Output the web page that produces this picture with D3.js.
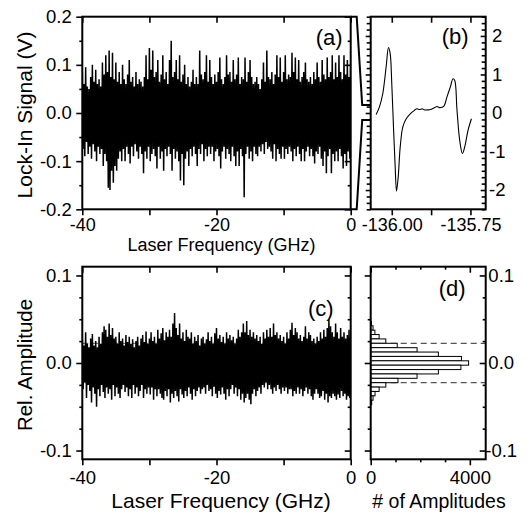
<!DOCTYPE html>
<html><head><meta charset="utf-8">
<script src="https://cdn.jsdelivr.net/npm/d3@7"></script>
<style>
html,body{margin:0;padding:0;background:#fff;}
svg{display:block;font-family:"Liberation Sans",Arial,sans-serif;}
</style></head>
<body>
<svg id="chart" width="531" height="515"></svg>
<script>
// ---------------- DATA ----------------
// (a) lock-in signal, upper / lower envelope in mV, every 0.25 GHz from -40 to 0
const freqStartA = -40, freqStepA = 0.25;
const sigHiA_mV = [
 85,60,95,55, 50,75,100,65, 90,60,70,55, 105,80,120,85, 130,75,125,70,
 105,65,85,60, 100,70,60,80, 110,65,75,55, 85,60,70,65, 55,75,120,70,
 135,90,130,75, 85,110,65,80, 120,70,85,60, 110,150,75,85, 110,70,120,65,
 80,100,60,75, 55,65,90,60, 75,60,130,80, 70,85,120,65, 110,75,60,80,
 65,85,115,70, 60,75,120,80, 85,65,110,70, 80,115,60,75, 70,115,65,85,
 110,75,60,65, 75,60,50,70, 105,65,130,75, 70,85,60,80, 120,75,115,65,
 85,120,70,80, 75,125,85,115, 70,110,65,75, 85,105,70,65, 75,60,85,70,
 105,75,65,110, 80,70,115,75, 85,120,70,105, 75,120,85,70, 120,80,110,75, 110];
const sigLoA_mV = [
 -75,-90,-60,-85, -70,-95,-65,-80, -100,-70,-85,-75, -110,-85,-100,-155, -160,-120,-145,-110,
 -120,-95,-80,-100, -75,-100,-70,-85, -105,-70,-90,-65, -80,-95,-70,-85, -125,-80,-95,-70,
 -100,-85,-75,-90, -115,-70,-95,-80, -120,-75,-90,-70, -85,-120,-75,-95, -80,-100,-140,-85,
 -150,-95,-80,-110, -75,-90,-70,-85, -110,-75,-85,-65, -100,-75,-90,-70, -85,-70,-100,-80,
 -75,-90,-115,-80, -70,-95,-75,-85, -100,-70,-90,-110, -80,-110,-75,-90, -175,-85,-70,-95,
 -80,-100,-70,-85, -90,-70,-80,-65, -85,-60,-75,-70, -80,-95,-65,-100, -75,-85,-95,-70,
 -95,-75,-85,-70, -80,-100,-75,-90, -70,-85,-100,-75, -100,-80,-70,-90, -75,-90,-105,-80,
 -85,-70,-95,-110, -80,-125,-90,-75, -125,-85,-100,-80, -100,-75,-90,-115, -85,-110,-80,-95, -90];
// (c) relative amplitude, upper / lower envelope in units of 0.001, every 0.25 GHz
const ampHiC_m = [
 30,20,35,22, 18,28,33,20, 25,18,30,22, 35,42,38,30, 45,32,40,28,
 30,22,35,25, 28,20,32,24, 30,22,27,18, 25,30,20,28, 32,24,36,22,
 28,35,25,30, 22,38,28,34, 40,26,35,30, 38,30,45,57, 40,32,45,28,
 35,25,38,30, 28,35,22,30, 25,32,20,28, 30,22,27,35, 25,30,22,34,
 40,28,32,24, 30,22,35,28, 32,26,30,22, 28,38,30,35, 45,35,48,32,
 38,30,35,28, 32,25,30,22, 35,28,38,30, 40,30,45,32, 35,28,32,25,
 30,22,35,28, 38,46,32,40, 35,28,32,25, 30,42,28,35, 32,25,28,22,
 30,25,35,28, 38,30,40,50, 42,35,30,45, 35,28,40,30, 35,28,32,38, 30];
const ampLoC_m = [
 -30,-22,-40,-25, -32,-45,-28,-35, -50,-30,-38,-25, -33,-40,-28,-35, -30,-42,-25,-38,
 -28,-35,-40,-30, -25,-33,-28,-38, -30,-40,-25,-35, -28,-38,-32,-25, -40,-30,-35,-28,
 -36,-28,-42,-30, -38,-30,-35,-40, -42,-32,-38,-30, -45,-35,-40,-32, -38,-44,-30,-36,
 -40,-32,-38,-28, -35,-42,-30,-38, -32,-28,-35,-30, -28,-35,-25,-32, -30,-38,-27,-35,
 -40,-32,-36,-28, -35,-42,-30,-38, -30,-25,-35,-28, -38,-30,-42,-35, -45,-40,-35,-42,
 -47,-35,-30,-38, -32,-28,-35,-25, -28,-22,-30,-25, -30,-35,-28,-32, -25,-30,-35,-28,
 -32,-28,-35,-30, -30,-38,-32,-35, -28,-35,-30,-38, -32,-28,-35,-30, -38,-42,-35,-30,
 -35,-40,-38,-32, -42,-35,-45,-38, -40,-35,-38,-42, -36,-40,-32,-38, -35,-42,-38,-40, -45];
// (b) zoomed lock-in signal
const freqB = [-136.0497,-136.0392,-136.0287,-136.0179,-136.0105,-136.0051,-136.0000,-135.9946,-135.9892,-135.9850,-135.9796,-135.9732,-135.9649,-135.9541,-135.9413,-135.9276,-135.9203,-135.9117,-135.9031,-135.8957,-135.8852,-135.8744,-135.8638,-135.8565,-135.8479,-135.8351,-135.8246,-135.8138,-135.8055,-135.8001,-135.7927,-135.7841,-135.7755,-135.7682,-135.7577,-135.7468];
const sigB = [-0.04,0.16,0.5,1.2,1.70,1.54,0.76,-0.36,-1.40,-2.03,-1.66,-0.88,-0.36,-0.15,-0.02,0.07,0.11,0.09,0.11,0.08,0.08,0.10,0.14,0.17,0.14,0.17,0.42,0.68,0.89,0.85,0.07,-0.71,-1.05,-0.88,-0.45,-0.15];
// (d) histogram of amplitudes
const binCenters = [0.045,0.040,0.035,0.030,0.025,0.020,0.015,0.010,0.005,0.000,-0.005,-0.010,-0.015,-0.020,-0.025,-0.030,-0.035,-0.040,-0.045];
const binCounts  = [30,95,170,340,610,1070,1870,2730,3660,3950,3640,2730,1870,1100,610,340,175,95,40];
const binWidth = 0.005;
const sigmaLines = [0.0225,-0.0225];
// tick labels
const ticksFreq = [-40,-20,0];
const ticksSigA = [-0.2,-0.1,0.0,0.1,0.2];
const ticksAmp = [-0.1,0.0,0.1];
const ticksFreqB = [-136.00,-135.75];
const ticksSigB = [-2,-1,0,1,2];
const ticksCount = [0,4000];

// ---------------- LAYOUT ----------------
const L = {ax0:82.3, ax1:350.7, bx0:370.7, bx1:485.7, ty0:16.7, ty1:209.3, by0:266.7, by1:459.3};
const svg = d3.select("#chart");
const FS = 18.5;

const xA = d3.scaleLinear([-40,0],[L.ax0,L.ax1]);
const yA = d3.scaleLinear([-0.2,0.2],[L.ty1,L.ty0]);
const xB = d3.scaleLinear([-136.067,-135.7015],[L.bx0,L.bx1]);
const yB = d3.scaleLinear([-2.5,2.5],[L.ty1,L.ty0]);
const xC = xA.copy();
const yC = d3.scaleLinear([-0.11,0.11],[L.by1,L.by0]);
const xD = d3.scaleLinear([0,4640],[L.bx0,L.bx1]);
const yD = yC.copy();

const fmt1 = d => d.toFixed(1);
const fmt0 = d => String(d);
const fmt2 = d => d.toFixed(2);

function drawAxis(g, axisFn, scale, major, minor, fmt, showLabels, majorLen, minorLen, inward, pad, fs) {
  const mk = (vals, len, lab) => {
    const ax = axisFn(scale).tickValues(vals).tickSizeOuter(0).tickSizeInner(inward ? -len : len)
      .tickPadding(inward ? len + 4 : (pad == null ? 4.5 : pad));
    ax.tickFormat(lab ? fmt : () => "");
    const gg = g.append("g").call(ax);
    gg.select(".domain").remove();
    gg.selectAll(".tick line").attr("stroke","#000").attr("stroke-width",1.6);
    gg.selectAll(".tick text").attr("fill","#000").attr("font-size",fs || FS).attr("font-family","Liberation Sans, Arial, sans-serif");
    return gg;
  };
  if (minor && minor.length) mk(minor, minorLen, false);
  return mk(major, majorLen, showLabels);
}

function frame(x0,x1,y0,y1){
  svg.append("rect").attr("x",x0).attr("y",y0).attr("width",x1-x0).attr("height",y1-y0)
    .attr("fill","none").attr("stroke","#000").attr("stroke-width",2);
}

function zigzag(hi, lo, start, step, unit) {
  const pts = [];
  hi.forEach((h,i)=>{
    const f = start + i*step;
    pts.push([f, h*unit]);
    if (i < lo.length) pts.push([f + step/2, lo[i]*unit]);
  });
  return pts;
}

// ---------- Panel A ----------
{
  svg.append("clipPath").attr("id","clipA").append("rect")
    .attr("x",L.ax0).attr("y",L.ty0).attr("width",L.ax1-L.ax0).attr("height",L.ty1-L.ty0);
  const pts = zigzag(sigHiA_mV, sigLoA_mV, freqStartA, freqStepA, 0.001).filter(p=>p[0]<=0);
  svg.append("path").attr("clip-path","url(#clipA)")
    .attr("d", d3.line().x(p=>xA(p[0])).y(p=>yA(p[1]))(pts))
    .attr("fill","none").attr("stroke","#000").attr("stroke-width",1.5).attr("stroke-linejoin","miter").attr("stroke-miterlimit",1);
  const gb = svg.append("g").attr("transform",`translate(0,${L.ty1})`);
  drawAxis(gb, d3.axisBottom, xA, ticksFreq, [-30,-10], fmt0, true, 6, 6, false, 3, 18);
  const gt = svg.append("g").attr("transform",`translate(0,${L.ty0})`);
  drawAxis(gt, d3.axisTop, xA, ticksFreq, [-30,-10], fmt0, false, 6, 6, true);
  const gl = svg.append("g").attr("transform",`translate(${L.ax0},0)`);
  drawAxis(gl, d3.axisLeft, yA, ticksSigA, [-0.15,-0.05,0.05,0.15], fmt1, true, 6, 3, false);
  const gr = svg.append("g").attr("transform",`translate(${L.ax1},0)`);
  drawAxis(gr, d3.axisRight, yA, ticksSigA, [-0.15,-0.05,0.05,0.15], fmt1, false, 6, 3, true);
  frame(L.ax0,L.ax1,L.ty0,L.ty1);
  svg.append("text").attr("x",L.ax1-8).attr("y",L.ty0+28).attr("text-anchor","end").attr("font-size",22).text("(a)");
  svg.append("text").attr("x",221.5).attr("y",251).attr("text-anchor","middle").attr("font-size",18).text("Laser Frequency (GHz)");
  svg.append("text").attr("transform",`translate(32,${(L.ty0+L.ty1)/2+2}) rotate(-90)`).attr("text-anchor","middle").attr("font-size",21).text("Lock-In Signal (V)");
}

// ---------- Bracket ----------
{
  const path = d3.path();
  path.moveTo(L.ax1, L.ty0); path.lineTo(L.ax1+6, L.ty0); path.lineTo(L.ax1+11.5, 105); path.lineTo(L.bx0, 105);
  path.moveTo(L.bx0, 120); path.lineTo(L.ax1+11.5, 120); path.lineTo(L.ax1+6, L.ty1); path.lineTo(L.ax1, L.ty1);
  svg.append("path").attr("d",path.toString()).attr("fill","none").attr("stroke","#000").attr("stroke-width",2);
}

// ---------- Panel B ----------
{
  const pts = freqB.map((f,i)=>[f,sigB[i]]);
  svg.append("path").attr("d", d3.line().x(p=>xB(p[0])).y(p=>yB(p[1])).curve(d3.curveCatmullRom)(pts))
    .attr("fill","none").attr("stroke","#000").attr("stroke-width",1.1);
  const minorY = d3.range(-15,16).map(i=>i/6).filter(v=>Math.abs(v-Math.round(v))>1e-6 && Math.abs(v)<=2.5);
  const gb = svg.append("g").attr("transform",`translate(0,${L.ty1})`);
  drawAxis(gb, d3.axisBottom, xB, ticksFreqB, [-135.875], fmt2, true, 6, 6, false, 3, 18);
  const gt = svg.append("g").attr("transform",`translate(0,${L.ty0})`);
  drawAxis(gt, d3.axisTop, xB, ticksFreqB, [-135.875], fmt2, false, 6, 6, true);
  const gl = svg.append("g").attr("transform",`translate(${L.bx0},0)`);
  drawAxis(gl, d3.axisLeft, yB, ticksSigB, minorY, fmt0, false, 5, 4, false);
  const gr = svg.append("g").attr("transform",`translate(${L.bx1},0)`);
  const ax = drawAxis(gr, d3.axisRight, yB, ticksSigB, minorY, fmt0, true, 5, 4, true);
  ax.selectAll(".tick text").attr("text-anchor","middle").attr("x",11.5);
  frame(L.bx0,L.bx1,L.ty0,L.ty1);
  svg.append("text").attr("x",L.bx1-17).attr("y",L.ty0+27).attr("text-anchor","end").attr("font-size",22).text("(b)");
}

// ---------- Panel C ----------
{
  svg.append("clipPath").attr("id","clipC").append("rect")
    .attr("x",L.ax0).attr("y",L.by0).attr("width",L.ax1-L.ax0).attr("height",L.by1-L.by0);
  sigmaLines.forEach(v=>{
    svg.append("line").attr("x1",L.ax0).attr("x2",L.ax1).attr("y1",yC(v)).attr("y2",yC(v))
      .attr("stroke","#555").attr("stroke-width",1).attr("stroke-dasharray","6,4");
  });
  const pts = zigzag(ampHiC_m, ampLoC_m, freqStartA, freqStepA, 0.001).filter(p=>p[0]<=0);
  svg.append("path").attr("clip-path","url(#clipC)")
    .attr("d", d3.line().x(p=>xC(p[0])).y(p=>yC(p[1]))(pts))
    .attr("fill","none").attr("stroke","#000").attr("stroke-width",1.5).attr("stroke-linejoin","miter").attr("stroke-miterlimit",1);
  const minorY = [-0.075,-0.05,-0.025,0.025,0.05,0.075];
  const gb = svg.append("g").attr("transform",`translate(0,${L.by1})`);
  drawAxis(gb, d3.axisBottom, xC, ticksFreq, [-30,-10], fmt0, true, 6, 6, false, 6);
  const gt = svg.append("g").attr("transform",`translate(0,${L.by0})`);
  drawAxis(gt, d3.axisTop, xC, ticksFreq, [-30,-10], fmt0, false, 6, 6, true);
  const gl = svg.append("g").attr("transform",`translate(${L.ax0},0)`);
  drawAxis(gl, d3.axisLeft, yC, ticksAmp, minorY, fmt1, true, 6, 3, false);
  const gr = svg.append("g").attr("transform",`translate(${L.ax1},0)`);
  drawAxis(gr, d3.axisRight, yC, ticksAmp, minorY, fmt1, false, 6, 3, true);
  frame(L.ax0,L.ax1,L.by0,L.by1);
  svg.append("text").attr("x",L.ax1-17).attr("y",L.by0+49).attr("text-anchor","end").attr("font-size",22).text("(c)");
  svg.append("text").attr("x",221).attr("y",508).attr("text-anchor","middle").attr("font-size",21).text("Laser Frequency (GHz)");
  svg.append("text").attr("transform",`translate(32,${(L.by0+L.by1)/2+2}) rotate(-90)`).attr("text-anchor","middle").attr("font-size",20.5).text("Rel. Amplitude");
}

// ---------- Panel D ----------
{
  sigmaLines.forEach(v=>{
    svg.append("line").attr("x1",L.bx0).attr("x2",L.bx1).attr("y1",yD(v)).attr("y2",yD(v))
      .attr("stroke","#555").attr("stroke-width",1.2).attr("stroke-dasharray","6,4");
  });
  svg.append("g").selectAll("rect").data(binCenters.map((c,i)=>({c, n:binCounts[i]}))).join("rect")
    .attr("x", xD(0)).attr("width", d=>xD(d.n)-xD(0))
    .attr("y", d=>yD(d.c+binWidth/2)).attr("height", d=>yD(d.c-binWidth/2)-yD(d.c+binWidth/2))
    .attr("fill","#fff").attr("stroke","#000").attr("stroke-width",1);
  const minorY = [-0.075,-0.05,-0.025,0.025,0.05,0.075];
  const gb = svg.append("g").attr("transform",`translate(0,${L.by1})`);
  drawAxis(gb, d3.axisBottom, xD, ticksCount, [1000,2000,3000], fmt0, true, 6, 3, false, 6);
  const gt = svg.append("g").attr("transform",`translate(0,${L.by0})`);
  drawAxis(gt, d3.axisTop, xD, ticksCount, [1000,2000,3000], fmt0, false, 6, 3, true);
  const gl = svg.append("g").attr("transform",`translate(${L.bx0},0)`);
  drawAxis(gl, d3.axisLeft, yD, ticksAmp, minorY, fmt1, false, 6, 3, false);
  const gr = svg.append("g").attr("transform",`translate(${L.bx1},0)`);
  const ax = drawAxis(gr, d3.axisRight, yD, ticksAmp, minorY, fmt1, true, 6, 3, true);
  ax.selectAll(".tick text").attr("text-anchor","middle").attr("x",15.5);
  frame(L.bx0,L.bx1,L.by0,L.by1);
  svg.append("text").attr("x",L.bx1-20).attr("y",L.by0+29).attr("text-anchor","end").attr("font-size",22).text("(d)");
  svg.append("text").attr("x",439).attr("y",508).attr("text-anchor","middle").attr("font-size",19.5).text("# of Amplitudes");
}
</script>
</body></html>
